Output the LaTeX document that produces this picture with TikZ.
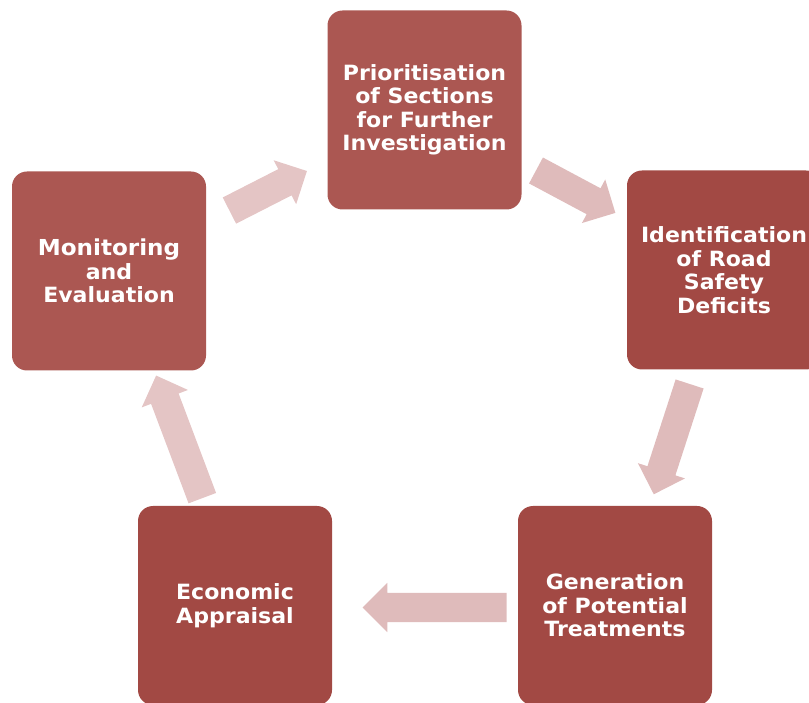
\documentclass[tikz,border=0pt]{standalone}
\usepackage{fontspec}
\setmainfont{DejaVu Sans}[FakeStretch=1.05]
\usetikzlibrary{shapes.arrows,calc}

\definecolor{boxlight}{RGB}{171,87,82}
\definecolor{boxdark}{RGB}{162,73,68}
\definecolor{arrowfill}{RGB}{223,187,187}
\definecolor{arrowpale}{RGB}{228,197,197}

\begin{document}
\begin{tikzpicture}[x=1pt, y=1pt,
	step box/.style={rectangle, rounded corners=15pt, minimum width=194pt, minimum height=199pt,
		text=white, align=center, font=\fontsize{21}{23.5}\selectfont\bfseries},
	block arrow/.style={single arrow, draw=none, minimum width=49pt, single arrow head extend=10pt,
		single arrow head indent=0pt, inner xsep=0pt, inner ysep=14.5pt}]
		\useasboundingbox (0,0) rectangle (809,702);

		\node [step box, fill=boxlight] (P) at (424.5,592) {Prioritisation\\of Sections\\for Further\\Investigation};
		\node [step box, fill=boxdark ] (I) at (724,432) {Identification\\of Road\\Safety\\Deficits};
		\node [step box, fill=boxdark ] (G) at (615,96.5) {Generation\\of Potential\\Treatments};
		\node [step box, fill=boxdark ] (E) at (235,96.5) {Economic\\Appraisal};
		\node [step box, fill=boxlight] (M) at (109,431) {\fontsize{22}{25.5}\selectfont Monitoring\\and\\Evaluation};

		% block arrows half way between the boxes, turned towards the next one
		% (the shape's centre sits on its shaft, so pull it back by half a head)
		\path let \p1=($(P)-(M)$), \n1={atan2(\y1,\x1)} in
			node [block arrow, fill=arrowpale, minimum height=87pt, rotate=\n1] (MP) at ($(M)!0.5!(P)+(2,0)+(\n1:-8)$) {};
		\path let \p1=($(I)-(P)$), \n1={atan2(\y1,\x1)} in
			node [block arrow, fill=arrowfill, minimum height=90pt, rotate=\n1] (PI) at ($(P)!0.5!(I)+(2,-2)+(\n1:-8)$) {};
		\path let \p1=($(G)-(I)$), \n1={atan2(\y1,\x1)} in
			node [block arrow, fill=arrowfill, minimum height=116pt, rotate=\n1] (IG) at ($(I)!0.5!(G)+(2,-2)+(\n1:-8)$) {};
		\path let \p1=($(E)-(G)$), \n1={atan2(\y1,\x1)} in
			node [block arrow, fill=arrowfill, minimum height=144pt, rotate=\n1] (GE) at ($(G)!0.5!(E)+(9,-2)+(\n1:-8)$) {};
		\path let \p1=($(M)-(E)$), \n1={atan2(\y1,\x1)} in
			node [block arrow, fill=arrowpale, minimum height=131pt, rotate=\n1] (EM) at ($(E)!0.5!(M)+(7,2)+(\n1:-8)$) {};
	\end{tikzpicture}
\end{document}
